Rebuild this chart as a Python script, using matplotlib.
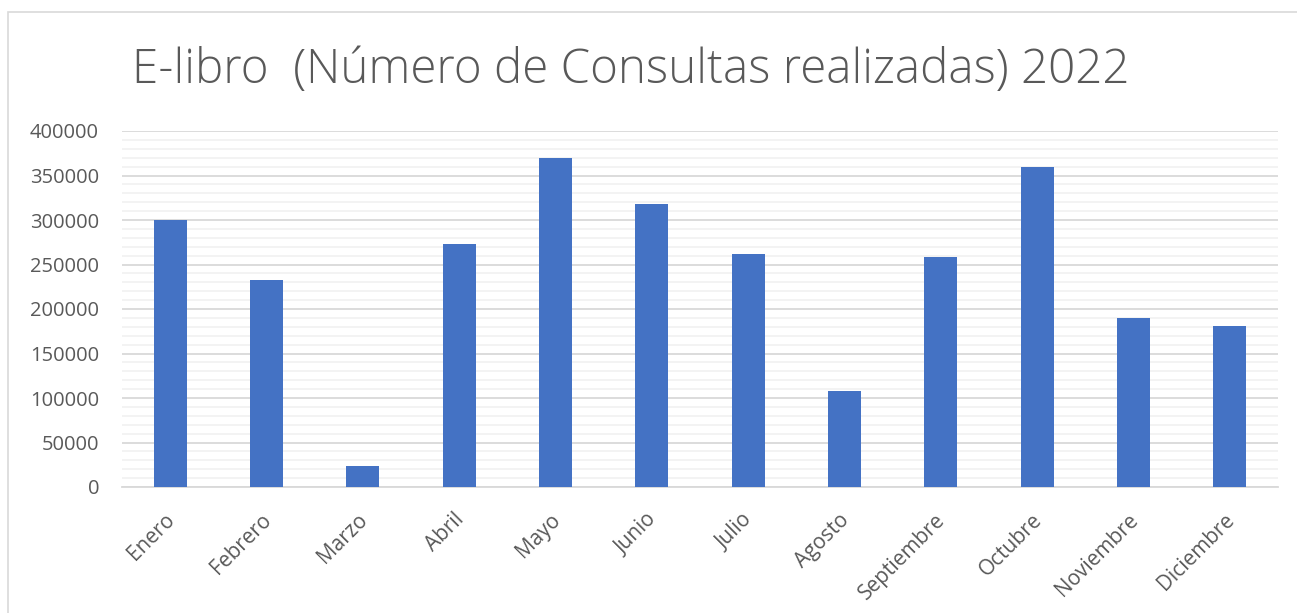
import numpy as np
import matplotlib
matplotlib.use('Agg')
import matplotlib.pyplot as plt
from matplotlib.patches import Rectangle
from matplotlib.ticker import MultipleLocator
from matplotlib.transforms import ScaledTranslation

# data
meses = ['Enero', 'Febrero', 'Marzo', 'Abril', 'Mayo', 'Junio', 'Julio',
         'Agosto', 'Septiembre', 'Octubre', 'Noviembre', 'Diciembre']
consultas = [300000, 232500, 24000, 273000, 370000, 318500, 262000,
             108000, 258500, 359500, 190000, 180500]
titulo = 'E-libro  (Número de Consultas realizadas) 2022'

plt.rcParams['font.family'] = ['Open Sans', 'DejaVu Sans']
texto = '#595959'

fig = plt.figure(figsize=(12.97, 6.13), dpi=100)
# chart border
fig.patches.append(Rectangle((8 / 1297, -0.1), 1.1, 1 - 12 / 613 + 0.1,
                             transform=fig.transFigure, fill=False,
                             edgecolor='#D9D9D9', linewidth=1.2))

ax = fig.add_axes([122 / 1297, 1 - 487 / 613, (1278 - 122) / 1297, (487 - 131) / 613])
x = np.arange(len(meses))
ax.bar(x, consultas, width=0.34, color='#4472C4', zorder=3)

ax.set_xlim(-0.5, len(meses) - 0.5)
ax.set_ylim(0, 400000)
ax.yaxis.set_major_locator(MultipleLocator(50000))
ax.yaxis.set_minor_locator(MultipleLocator(10000))
ax.grid(which='major', axis='y', color='#D9D9D9', linewidth=1.3, zorder=1)
ax.grid(which='minor', axis='y', color='#F2F2F2', linewidth=1.3, zorder=0)
for s in ['top', 'right', 'left']:
    ax.spines[s].set_visible(False)
ax.spines['bottom'].set_color('#D9D9D9')
ax.spines['bottom'].set_linewidth(1.3)
ax.tick_params(which='both', length=0)
ax.tick_params(axis='y', labelsize=14.5, labelcolor=texto, pad=16.5)
ax.set_yticks(np.arange(0, 400001, 50000))
ax.set_yticklabels([str(v) for v in range(0, 400001, 50000)])
ax.set_xticks(x)
ax.set_xticklabels(meses, rotation=45, ha='right', rotation_mode='anchor',
                   fontsize=15, color=texto)
ax.tick_params(axis='x', pad=16)
# nudge month labels a little to the left, like the original
shift = ScaledTranslation(-6 / 100, 0, fig.dpi_scale_trans)
for lbl in ax.get_xticklabels():
    lbl.set_transform(lbl.get_transform() + shift)

fig.text(132 / 1297, 1 - 83 / 613, titulo, fontsize=34.2, color=texto,
         fontweight='light', ha='left', va='baseline')

fig.savefig('out.png', dpi=100)
